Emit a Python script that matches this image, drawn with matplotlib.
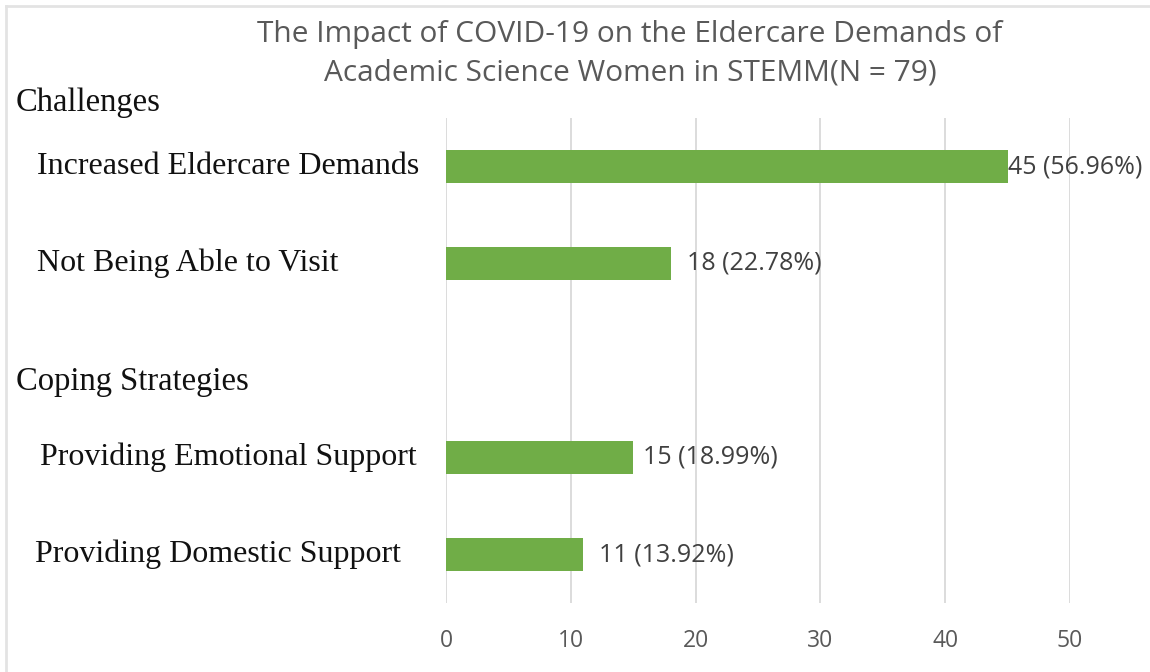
import matplotlib
matplotlib.use("Agg")
import matplotlib.pyplot as plt
from matplotlib.lines import Line2D

title = "The Impact of COVID-19 on the Eldercare Demands of\nAcademic Science Women in STEMM(N = 79)"
categories = ["Increased Eldercare Demands", "Not Being Able to Visit",
              "Providing Emotional Support", "Providing Domestic Support"]
values = [45, 18, 15, 11]
percents = ["56.96%", "22.78%", "18.99%", "13.92%"]
section_headers = ["Challenges", "Coping Strategies"]
xticks = [0, 10, 20, 30, 40, 50]

# layout / style
positions = [0, 1, 3, 4]
label_pad_pts = [0.5, 12, 7, 11]
label_x_px = [37, 37, 40, 35]
header_y_px = [103, 382]
W, H = 1150, 672
green = "#70AD47"

fig = plt.figure(figsize=(W / 100, H / 100), dpi=100)
ax = fig.add_axes([446 / W, 1 - 603 / H, (1070 - 446) / W, (603 - 118) / H])

ax.barh(positions, values, height=0.35, color=green, zorder=3)
ax.set_xlim(0, 50)
ax.set_ylim(4.5, -0.5)
ax.set_xticks(xticks)
ax.set_xticklabels([str(t) for t in xticks], family="Open Sans", fontsize=16.5, color="#595959")
ax.tick_params(axis="x", length=0, pad=19)
ax.set_yticks([])
ax.grid(axis="x", color="#D9D9D9", linewidth=1.3, zorder=0)
for s in ax.spines.values():
    s.set_visible(False)

for p, v, pc, pad in zip(positions, values, percents, label_pad_pts):
    ax.annotate(f"{v} ({pc})", xy=(v, p), xytext=(pad, 0), textcoords="offset points",
                va="center", ha="left", family="Open Sans", fontsize=18, color="#404040")

for p, c, xp in zip(positions, categories, label_x_px):
    y_fig = ax.transData.transform((0, p))[1] / H
    fig.text(xp / W, y_fig, c, ha="left", va="center", family="Liberation Serif",
             fontsize=23, color="#111111")

for hdr, yp in zip(section_headers, header_y_px):
    fig.text(16 / W, 1 - yp / H, hdr, ha="left", va="center", family="Liberation Serif",
             fontsize=23.5, color="#111111")

fig.text(630 / W, 1 - 54 / H, title, ha="center", va="center", family="Open Sans",
         fontsize=21.5, color="#595959", linespacing=1.45)

fig.add_artist(Line2D([6 / W, 6 / W], [0, 1 - 6 / H], color="#E3E3E3", lw=2, transform=fig.transFigure))
fig.add_artist(Line2D([6 / W, 1], [1 - 6 / H, 1 - 6 / H], color="#E3E3E3", lw=2, transform=fig.transFigure))

fig.savefig("out.png", dpi=100, facecolor="white")
